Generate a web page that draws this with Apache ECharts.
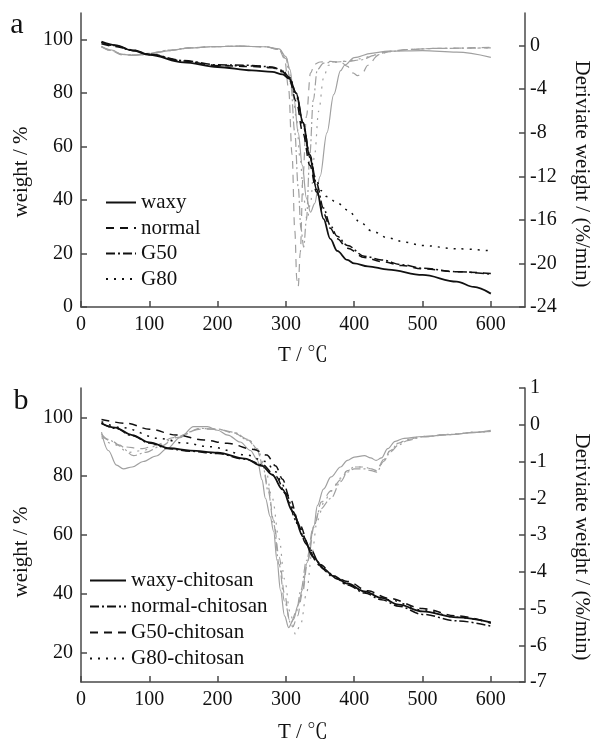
<!DOCTYPE html>
<html>
<head>
<meta charset="utf-8">
<script src="https://cdn.jsdelivr.net/npm/echarts@6/dist/echarts.min.js"></script>
<style>
html,body{margin:0;padding:0;background:#fff;}
#c{width:595px;height:742px;}
</style>
</head>
<body>
<div id="c"></div>
<script>
// ---------- Panel a: TG (weight %) ----------
const aT_waxy = [30,50,75,100,150,200,250,280,295,305,315,325,335,345,355,365,375,390,400,420,450,500,550,575,600];
const aW_waxy = [99.3,98,96,94.3,91.5,89.8,88.5,88,87,85.5,80,69,56,44,33,25.5,21,17.6,16.3,15.2,14,12,9.5,7.5,5];
const aT_normal = [30,50,75,100,150,200,250,280,295,305,315,325,335,345,355,365,375,390,415,440,470,500,550,600];
const aW_normal = [98.5,97.5,96,94.5,92,90.3,90,89.5,88,85,77,65,53,43,35,29.5,25.5,22,18.5,17,15.5,14.3,13.2,12.5];
const aT_g50 = [30,50,75,100,150,200,250,280,295,305,315,325,335,345,355,365,375,390,415,440,470,500,550,600];
const aW_g50 = [99,97.8,96.2,94.6,92.2,90.6,90.4,89.8,88.5,86,80,69,57,46,37,30.5,26.5,23,19,17.6,15.8,14.5,13.2,12.3];
const aT_g80 = [30,50,75,100,150,200,250,280,295,305,315,325,335,345,352,360,375,390,410,425,450,475,500,550,600];
const aW_g80 = [99,97.7,96,94.5,92,90.4,90.2,89.6,88.3,85.5,79,68,56,47,43.5,41.3,39,36.3,31.5,28.5,25.8,24.2,23,21.8,21];

// ---------- Panel a: DTG (%/min) ----------
const adT_waxy = [30,45,60,80,100,130,160,190,230,270,290,300,306,312,318,324,330,336,342,350,360,370,380,386,400,425,450,500,550,600];
const adR_waxy = [-0.05,-0.4,-0.8,-0.9,-0.75,-0.45,-0.2,-0.1,-0.05,-0.1,-0.3,-1.0,-2.2,-5,-8,-11,-14,-15.3,-14.5,-12,-8,-4.5,-2.3,-1.8,-1.1,-0.7,-0.5,-0.45,-0.6,-1.07];
const adT_normal = [30,45,60,80,100,130,160,190,230,270,290,298,304,309,313,316,318,321,325,330,336,342,350,365,380,390,398,405,412,420,435,450,480,520,600];
const adR_normal = [-0.1,-0.5,-0.85,-0.9,-0.75,-0.45,-0.2,-0.1,-0.05,-0.1,-0.35,-1.2,-4,-10,-17,-21.5,-22.1,-19,-12,-6.5,-2.5,-1.7,-1.5,-1.45,-1.5,-1.9,-2.5,-2.75,-2.5,-1.8,-0.9,-0.55,-0.35,-0.25,-0.15];
const adT_g50 = [30,45,60,80,100,130,160,190,230,270,290,300,307,313,318,322,326,330,335,340,346,355,370,390,410,430,450,480,520,600];
const adR_g50 = [-0.1,-0.45,-0.8,-0.85,-0.7,-0.4,-0.2,-0.1,-0.05,-0.1,-0.35,-1.2,-3.5,-8,-13,-16.8,-18.5,-16,-10,-5,-2.2,-1.6,-1.5,-1.45,-1.3,-0.9,-0.55,-0.35,-0.25,-0.2];
const adT_g80 = [30,45,60,80,100,130,160,190,230,270,290,300,308,315,321,326,331,336,342,348,355,362,375,390,410,430,450,480,520,600];
const adR_g80 = [-0.1,-0.45,-0.8,-0.85,-0.7,-0.4,-0.2,-0.1,-0.05,-0.1,-0.35,-1.1,-3,-6.5,-10.5,-14,-16,-14.5,-10,-6,-3,-1.8,-1.5,-1.4,-1.2,-0.85,-0.5,-0.35,-0.25,-0.2];

// ---------- Panel b: TG ----------
const bT_waxy = [30,50,75,100,130,160,200,240,265,280,295,310,325,340,355,370,390,415,440,465,500,550,600];
const bW_waxy = [98,96.5,94,91.5,89.5,88.7,88,86,83.5,80.5,75.5,68,59.5,52.5,48.5,46,43.5,40.8,38.6,36.3,34,32,30.3];
const bT_normal = [30,50,75,100,130,160,200,240,265,285,300,315,330,345,360,375,390,415,440,465,500,550,600];
const bW_normal = [98,96.3,93.8,91.3,89.3,88.5,87.7,85.8,84,80,74,65,57,51,47.5,45,43,40.3,38,35.8,33,30.8,29];
const bT_g50 = [30,67,100,140,180,214,253,272,285,295,305,320,335,350,370,390,420,450,500,550,600];
const bW_g50 = [99.3,98,96,94,92.3,91.2,89.1,87.2,83.5,79,73,63.5,55.5,50,46,44.2,41,38.5,35,32.5,30];
const bT_g80 = [30,60,116,150,189,243,270,285,295,305,320,335,350,370,390,420,450,500,550,600];
const bW_g80 = [98.5,96.5,92.8,91.3,90,87.2,85,81.5,77,71,62.5,55,49.5,45.5,43.2,40.3,38,34.5,32,30.2];

// ---------- Panel b: DTG ----------
const bdT_waxy = [30,40,52,62,75,91,110,126,145,165,185,200,215,233,248,258,265,270,277,282,287,292,298,304,311,318,324,331,341,346,355,366,380,390,400,415,424,432,440,449,460,473,500,540,570,600];
const bdR_waxy = [-0.2,-0.7,-1.1,-1.2,-1.15,-1.0,-0.85,-0.65,-0.35,-0.05,-0.05,-0.15,-0.28,-0.47,-0.7,-0.95,-1.5,-2.0,-2.5,-2.9,-3.7,-4.5,-5.2,-5.52,-5.3,-4.9,-4.5,-3.75,-2.75,-2.2,-1.75,-1.42,-1.15,-0.97,-0.88,-0.84,-0.9,-0.97,-0.9,-0.65,-0.45,-0.37,-0.32,-0.27,-0.22,-0.15];
const bdT_normal = [30,40,55,77,95,115,140,175,200,223,245,258,266,274,282,290,298,307,315,322,330,340,350,366,380,390,400,415,425,433,443,453,465,478,500,540,580,600];
const bdR_normal = [-0.25,-0.4,-0.55,-0.84,-0.75,-0.6,-0.35,-0.1,-0.12,-0.2,-0.4,-0.65,-1.1,-1.8,-2.7,-3.8,-4.8,-5.4,-5.1,-4.5,-3.7,-2.8,-2.3,-2.0,-1.55,-1.29,-1.2,-1.2,-1.25,-1.29,-1.0,-0.74,-0.55,-0.43,-0.33,-0.27,-0.2,-0.18];
const bdT_g50 = [30,45,60,90,110,135,175,200,223,245,258,266,274,282,290,298,305,310,317,324,332,342,352,366,380,390,400,415,425,433,443,453,465,478,500,540,580,600];
const bdR_g50 = [-0.3,-0.45,-0.6,-0.65,-0.55,-0.35,-0.12,-0.12,-0.22,-0.42,-0.7,-1.1,-1.7,-2.6,-3.6,-4.6,-5.3,-5.5,-5.2,-4.6,-3.7,-2.7,-2.1,-1.8,-1.5,-1.25,-1.15,-1.15,-1.2,-1.25,-0.95,-0.7,-0.5,-0.4,-0.32,-0.26,-0.2,-0.18];
const bdT_g80 = [30,50,70,90,115,140,175,200,223,245,260,270,280,290,298,306,314,322,330,338,346,356,366,380,390,400,415,425,433,443,453,465,478,500,540,580,600];
const bdR_g80 = [-0.35,-0.55,-0.75,-0.7,-0.55,-0.32,-0.1,-0.12,-0.22,-0.42,-0.75,-1.2,-2.0,-3.1,-4.2,-5.1,-5.7,-5.4,-4.6,-3.5,-2.6,-2.1,-1.8,-1.45,-1.25,-1.15,-1.15,-1.2,-1.25,-0.95,-0.7,-0.5,-0.4,-0.32,-0.26,-0.2,-0.18];

// ---------- ticks / labels ----------
const xTicks = [0,100,200,300,400,500,600];
const aLeftTicks = [0,20,40,60,80,100];
const aRightTicks = [-24,-20,-16,-12,-8,-4,0];
const bLeftTicks = [20,40,60,80,100];
const bRightTicks = [-7,-6,-5,-4,-3,-2,-1,0,1];
const aNames = ['waxy','normal','G50','G80'];
const bNames = ['waxy-chitosan','normal-chitosan','G50-chitosan','G80-chitosan'];

const FONT = '"Liberation Serif","Times New Roman","Noto Serif CJK SC","Noto Sans CJK SC",serif';
const AXC = '#4a4a4a';
const BLACK = '#111';
const GRAY = '#a0a0a0';
const DASH = {solid:'solid', dashed:[8,6], dashdot:[9,3,2,3], dotted:[2,6]};

function zip(t, v){ return t.map((x,i)=>[x, v[i]]); }

function line(name, t, v, xi, yi, color, width, type, z){
  return {
    type:'line', name, xAxisIndex:xi, yAxisIndex:yi, data:zip(t,v),
    symbol:'none', smooth:0.35, smoothMonotone:'x', animation:false, z,
    lineStyle:{color, width, type}, itemStyle:{color}
  };
}

function xAx(grid, nameGap){
  return {
    type:'value', gridIndex:grid, min:0, max:650, interval:100,
    name:'T / \u2103', nameLocation:'middle', nameGap,
    nameTextStyle:{fontFamily:FONT, fontSize:21, color:BLACK},
    axisLine:{show:true, onZero:false, lineStyle:{color:AXC, width:1.5}},
    axisTick:{show:true, inside:true, length:6, customValues:xTicks, lineStyle:{color:AXC, width:1.5}},
    axisLabel:{customValues:xTicks, margin:8, fontFamily:FONT, fontSize:20, color:BLACK},
    splitLine:{show:false}
  };
}
function yAx(grid, pos, min, max, ticks, margin){
  return {
    type:'value', gridIndex:grid, position:pos, min, max,
    axisLine:{show:true, onZero:false, lineStyle:{color:AXC, width:1.5}},
    axisTick:{show:true, inside:true, length:6, customValues:ticks, lineStyle:{color:AXC, width:1.5}},
    axisLabel:{customValues:ticks, margin, fontFamily:FONT, fontSize:20, color:BLACK},
    splitLine:{show:false}
  };
}

const series = [
  line('waxy DTG', adT_waxy, adR_waxy, 0, 1, GRAY, 1.2, DASH.solid, 2),
  line('normal DTG', adT_normal, adR_normal, 0, 1, GRAY, 1.2, DASH.dashed, 2),
  line('G50 DTG', adT_g50, adR_g50, 0, 1, GRAY, 1.2, DASH.dashdot, 2),
  line('G80 DTG', adT_g80, adR_g80, 0, 1, GRAY, 1.2, DASH.dotted, 2),
  line('waxy', aT_waxy, aW_waxy, 0, 0, BLACK, 1.8, DASH.solid, 3),
  line('normal', aT_normal, aW_normal, 0, 0, BLACK, 1.5, DASH.dashed, 3),
  line('G50', aT_g50, aW_g50, 0, 0, BLACK, 1.5, DASH.dashdot, 3),
  line('G80', aT_g80, aW_g80, 0, 0, BLACK, 1.5, DASH.dotted, 3),

  line('waxy-chitosan DTG', bdT_waxy, bdR_waxy, 1, 3, GRAY, 1.2, DASH.solid, 2),
  line('normal-chitosan DTG', bdT_normal, bdR_normal, 1, 3, GRAY, 1.2, DASH.dashdot, 2),
  line('G50-chitosan DTG', bdT_g50, bdR_g50, 1, 3, GRAY, 1.2, DASH.dashed, 2),
  line('G80-chitosan DTG', bdT_g80, bdR_g80, 1, 3, GRAY, 1.2, DASH.dotted, 2),
  line('waxy-chitosan', bT_waxy, bW_waxy, 1, 2, BLACK, 1.8, DASH.solid, 3),
  line('normal-chitosan', bT_normal, bW_normal, 1, 2, BLACK, 1.5, DASH.dashdot, 3),
  line('G50-chitosan', bT_g50, bW_g50, 1, 2, BLACK, 1.5, DASH.dashed, 3),
  line('G80-chitosan', bT_g80, bW_g80, 1, 2, BLACK, 1.5, DASH.dotted, 3)
];

function leg(names, left, top, w, gap){
  return {
    data:names, orient:'vertical', left, top, itemWidth:w, itemHeight:12, itemGap:gap,
    selectedMode:false, padding:0,
    itemStyle:{opacity:0, borderWidth:0},
    textStyle:{fontFamily:FONT, fontSize:21, color:BLACK, padding:[0,0,0,0]}
  };
}

const option = {
  backgroundColor:'#fff',
  animation:false,
  grid:[
    {left:81, top:13, width:444, height:294, containLabel:false, outerBoundsMode:'none'},
    {left:81, top:388, width:444, height:294, containLabel:false, outerBoundsMode:'none'}
  ],
  xAxis:[xAx(0, 38), xAx(1, 40)],
  yAxis:[
    yAx(0,'left',0,110,aLeftTicks,8),
    yAx(0,'right',-24,3,aRightTicks,5),
    yAx(1,'left',10,110,bLeftTicks,8),
    yAx(1,'right',-7,1,bRightTicks,5)
  ],
  legend:[leg(aNames,105,192,30,4.5), leg(bNames,89,570,36,5)],
  series,
  graphic:[
    {type:'text', x:17, y:40, style:{text:'a', font:'30px '+FONT, fill:BLACK, textAlign:'center', textVerticalAlign:'bottom'}},
    {type:'text', x:21, y:416, style:{text:'b', font:'30px '+FONT, fill:BLACK, textAlign:'center', textVerticalAlign:'bottom'}},
    {type:'text', x:21, y:172, rotation:Math.PI/2, style:{text:'weight / %', font:'21px '+FONT, fill:BLACK, textAlign:'center', textVerticalAlign:'middle'}},
    {type:'text', x:21, y:552, rotation:Math.PI/2, style:{text:'weight / %', font:'21px '+FONT, fill:BLACK, textAlign:'center', textVerticalAlign:'middle'}},
    {type:'text', x:582, y:174, rotation:-Math.PI/2, style:{text:'Deriviate weight / (%/min)', font:'21px '+FONT, fill:BLACK, textAlign:'center', textVerticalAlign:'middle'}},
    {type:'text', x:582, y:547, rotation:-Math.PI/2, style:{text:'Deriviate weight / (%/min)', font:'21px '+FONT, fill:BLACK, textAlign:'center', textVerticalAlign:'middle'}}
  ]
};

const chart = echarts.init(document.getElementById('c'), null, {renderer:'canvas'});
chart.setOption(option);
</script>
</body>
</html>
